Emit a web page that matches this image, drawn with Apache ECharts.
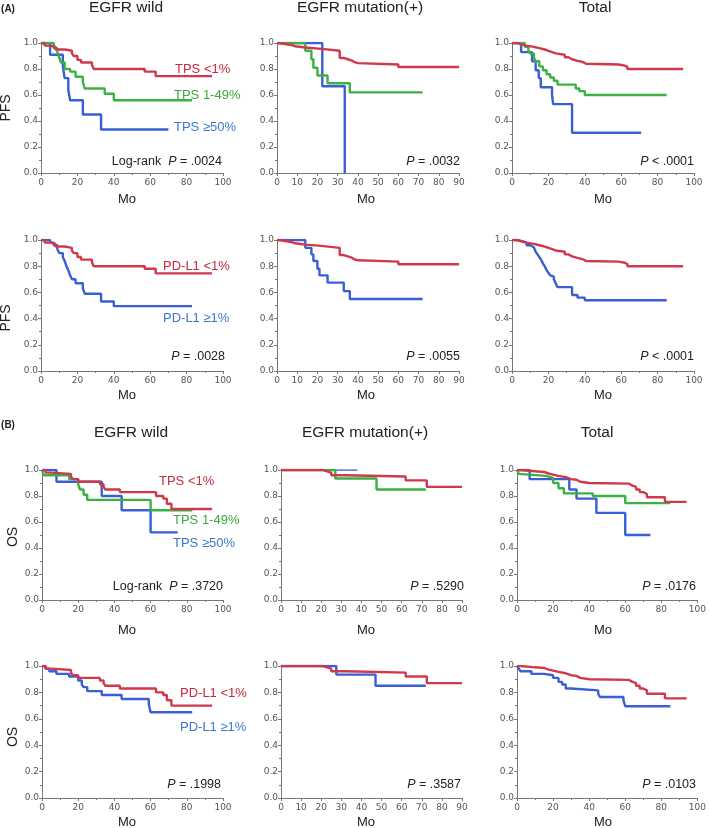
<!DOCTYPE html>
<html>
<head>
<meta charset="utf-8">
<script src="https://cdn.jsdelivr.net/npm/echarts@6/dist/echarts.min.js"></script>
<style>
  html, body { margin: 0; padding: 0; background: #fff; }
  #chart { width: 709px; height: 828px; }
</style>
</head>
<body>
<div id="chart"></div>
<script>
// Kaplan-Meier curves, [month, survival]
// PFS, EGFR wild
const pfsWildLow = [[0,1],[2,0.98],[5,0.97],[8,0.95],[13,0.94],[17,0.92],[18,0.90],[20,0.87],[22,0.85],[28,0.83],[29,0.80],[57,0.78],[63,0.745],[94,0.745]]
const pfsWildMid = [[0,1],[7,0.96],[9,0.93],[10,0.89],[11,0.85],[13,0.80],[16,0.78],[19,0.74],[23,0.70],[24,0.65],[35,0.61],[40,0.56],[83,0.56]]
const pfsWildHigh = [[0,1],[5,0.91],[12,0.82],[13,0.73],[15,0.64],[16,0.56],[23,0.45],[33,0.335],[70,0.335]]
const pfsWildPdHigh = [[0,1],[5,0.98],[7,0.96],[9,0.93],[10,0.90],[12,0.87],[13,0.84],[14,0.80],[15,0.77],[16,0.73],[17,0.70],[19,0.67],[23,0.63],[24,0.59],[33,0.53],[40,0.495],[83,0.495]]
// PFS, EGFR mutation(+)
const pfsMutLow = [[0,1],[1,0.985],[7,0.975],[9,0.965],[14,0.955],[22,0.94],[31,0.885],[33,0.875],[35,0.865],[37,0.855],[38,0.845],[40,0.835],[60,0.815],[90,0.815]]
const pfsMutMid = [[0,1],[14,0.94],[17,0.875],[18,0.81],[20,0.75],[25,0.69],[36,0.62],[72,0.62]]
const pfsMutHigh = [[0,1],[22.4,0.667],[33.5,0]]
const pfsMutPdHigh = [[0,1],[14,0.94],[17,0.89],[18,0.84],[20,0.78],[21,0.73],[25,0.675],[33,0.61],[36,0.55],[72,0.55]]
// PFS, total
const pfsTotLow = [[0,1],[3,0.99],[5,0.98],[8,0.97],[12,0.96],[15,0.95],[18,0.94],[20,0.93],[22,0.92],[24,0.91],[29,0.89],[31,0.875],[33,0.865],[35.5,0.86],[37,0.85],[39.5,0.84],[40.6,0.835],[58.5,0.826],[62,0.816],[63.4,0.80],[94,0.80]]
const pfsTotMid = [[0,1],[7,0.97],[9,0.94],[10,0.92],[12,0.89],[13,0.86],[15,0.82],[17,0.79],[19,0.76],[21,0.735],[23,0.71],[25,0.68],[35,0.65],[37,0.63],[40,0.60],[85,0.60]]
const pfsTotHigh = [[0,1],[5,0.93],[11,0.86],[13,0.79],[14.7,0.73],[15.8,0.66],[22,0.60],[22.6,0.53],[33,0.31],[71,0.31]]
const pfsTotPdHigh = [[0,1],[3,0.99],[6,0.98],[8,0.96],[10,0.945],[12,0.93],[13,0.91],[14,0.89],[15,0.87],[16,0.85],[17,0.82],[18,0.80],[19,0.77],[20,0.75],[21,0.73],[22,0.72],[23,0.70],[24,0.67],[25,0.64],[33,0.58],[36,0.56],[40,0.54],[85,0.54]]
// OS, EGFR wild
const osWildLow = [[0,1],[2,0.98],[5,0.97],[16,0.95],[17,0.93],[20,0.91],[32,0.89],[34,0.87],[35,0.85],[43,0.83],[63,0.80],[67,0.78],[69,0.74],[71.5,0.70],[94,0.70]]
const osWildMid = [[0,1],[1,0.96],[15,0.93],[20,0.89],[21,0.85],[23,0.81],[25,0.77],[60,0.69],[83,0.69]]
const osWildHigh = [[0,1],[8,0.91],[33,0.80],[44,0.69],[60,0.52],[75,0.52]]
const osWildPdHigh = [[0,1],[2,0.98],[4,0.96],[8,0.94],[15,0.92],[20,0.89],[22,0.86],[23,0.84],[25,0.81],[33,0.78],[44,0.75],[59,0.71],[60,0.65],[83,0.65]]
// OS, EGFR mutation(+)
const osMutLow = [[0,1],[21,0.99],[23,0.98],[25,0.96],[32,0.95],[62,0.92],[72.5,0.87],[90,0.87]]
const osMutMid = [[0,1],[27,0.935],[47.5,0.85],[72,0.85]]
const osMutHigh = [[0,1],[38,1]]
const osMutPdHigh = [[0,1],[27.5,0.935],[47,0.85],[72,0.85]]
// OS, total
const osTotLow = [[0,1],[2,0.99],[10,0.985],[15,0.975],[17,0.965],[20,0.955],[23,0.945],[27,0.93],[30,0.925],[33,0.91],[35,0.90],[40,0.895],[62,0.88],[64,0.87],[66,0.85],[68,0.83],[70,0.815],[72,0.79],[82,0.755],[94,0.755]]
const osTotMid = [[0,1],[1,0.97],[2,0.955],[16,0.94],[20,0.90],[23,0.86],[26,0.82],[42,0.80],[60,0.745],[85,0.745]]
const osTotHigh = [[0,1],[7,0.93],[29,0.85],[33,0.78],[44,0.67],[60,0.50],[74,0.50]]
const osTotPdHigh = [[0,1],[1,0.98],[2,0.96],[8,0.94],[15,0.93],[20,0.91],[23,0.88],[25,0.86],[27,0.83],[30,0.815],[45,0.79],[46,0.765],[59,0.74],[60,0.695],[85,0.695]]

const colTitles = ['EGFR wild', 'EGFR mutation(+)', 'Total']
const xMaxes = [100, 90, 100]
const xSteps = [20, 10, 20]
const pValues = ['.0024', '.0032', '< .0001', '.0028', '.0055', '< .0001', '.3720', '.5290', '.0176', '.1998', '.3587', '.0103']

const RED = '#d0384c'
const GREEN = '#3cb043'
const BLUE = '#3a5fd4'

// panel order: row by row
const panels = [
  [pfsWildLow, pfsWildMid, pfsWildHigh], [pfsMutLow, pfsMutMid, pfsMutHigh], [pfsTotLow, pfsTotMid, pfsTotHigh],
  [pfsWildLow, pfsWildPdHigh], [pfsMutLow, pfsMutPdHigh], [pfsTotLow, pfsTotPdHigh],
  [osWildLow, osWildMid, osWildHigh], [osMutLow, osMutMid, osMutHigh], [osTotLow, osTotMid, osTotHigh],
  [osWildLow, osWildPdHigh], [osMutLow, osMutPdHigh], [osTotLow, osTotPdHigh],
]

const rowTop = [43, 240, 470, 666]
const rowH = [130, 131, 130, 132]
const colLeft = [[41, 277, 512], [41, 277, 512], [42, 281, 517], [42, 281, 517]]
const colW = [[182, 182, 182], [182, 182, 182], [181, 181, 181], [181, 181, 181]]

const font = 'Liberation Sans, Arial, sans-serif'
const tickFont = 'DejaVu Sans, Verdana, sans-serif'

const grid = [], xAxis = [], yAxis = [], series = []
panels.forEach((curves, i) => {
  const r = Math.floor(i / 3), c = i % 3
  grid.push({ left: colLeft[r][c], top: rowTop[r], width: colW[r][c], height: rowH[r], containLabel: false })
  xAxis.push({
    gridIndex: i, type: 'value', min: 0, max: xMaxes[c], interval: xSteps[c],
    axisLine: { lineStyle: { color: '#777', width: 1 } },
    axisTick: { length: 3, lineStyle: { color: '#777' } },
    minorTick: { show: xSteps[c] === 20, splitNumber: 2, length: 2, lineStyle: { color: '#777' } },
    axisLabel: { fontSize: 9, color: '#555', fontFamily: tickFont, margin: 5 },
    splitLine: { show: false },
  })
  yAxis.push({
    gridIndex: i, type: 'value', min: 0, max: 1, interval: 0.2,
    axisLine: { show: true, lineStyle: { color: '#777', width: 1 } },
    axisTick: { show: true, length: 3, lineStyle: { color: '#777' } },
    minorTick: { show: true, splitNumber: 2, length: 2, lineStyle: { color: '#777' } },
    axisLabel: { fontSize: 9, color: '#555', fontFamily: tickFont, margin: 3, formatter: v => v.toFixed(1) },
    splitLine: { show: false },
  })
  const colors = curves.length === 3 ? [RED, GREEN, BLUE] : [RED, BLUE]
  curves.forEach((d, k) => {
    series.push({
      type: 'line', xAxisIndex: i, yAxisIndex: i, step: 'end', data: d,
      showSymbol: false, symbol: 'none', silent: true,
      lineStyle: { color: colors[k], width: (i === 7 && k === 2) ? 1.5 : 2.4 },
      z: 3 - k,
    })
  })
})

// texts
const graphic = []
function txt(x, y, text, opt) {
  graphic.push(Object.assign({
    type: 'text', x: x, y: y,
    style: Object.assign({ text: text, font: '13px ' + font, fill: '#222', align: 'center', verticalAlign: 'middle' }, opt || {}),
  }))
}
function vtxt(x, y, text) {
  graphic.push({ type: 'text', x: x, y: y, rotation: Math.PI / 2,
    style: { text: text, font: '14px ' + font, fill: '#222', align: 'center', verticalAlign: 'middle' } })
}
function ptxt(xRight, y, p, prefix) {
  const sign = p.charAt(0) === '<' ? '< ' + p.slice(2) : '= ' + p
  graphic.push({ type: 'text', x: xRight, y: y,
    style: { text: (prefix || '') + '{i|P} ' + sign, font: '12.5px ' + font, fill: '#222', align: 'right', verticalAlign: 'middle',
      rich: { i: { font: 'italic 12.5px ' + font, fill: '#222' } } } })
}

txt(8, 9, '(A)', { font: 'bold 10px ' + font })
txt(8, 425, '(B)', { font: 'bold 10px ' + font })
const titleX = [[126, 360, 595], [131, 365, 597]]
const titleY = [8, 433]
colTitles.forEach((t, c) => {
  txt(titleX[0][c], titleY[0], t, { font: '15.5px ' + font })
  txt(titleX[1][c], titleY[1], t, { font: '15.5px ' + font })
})

const moX = [127, 366, 603]
const moY = [199, 395, 630, 822]
moY.forEach(y => moX.forEach(x => txt(x, y, 'Mo', { font: '13px ' + font })))

vtxt(6, 108, 'PFS')
vtxt(6, 318, 'PFS')
vtxt(13, 537, 'OS')
vtxt(13, 737, 'OS')

// group labels
txt(175, 69, 'TPS <1%', { fill: '#c8283c', align: 'left' })
txt(174, 95, 'TPS 1-49%', { fill: '#3aab3a', align: 'left' })
txt(174, 127, 'TPS \u226550%', { fill: '#3a78d0', align: 'left' })
txt(163, 266, 'PD-L1 <1%', { fill: '#c8283c', align: 'left' })
txt(163, 318, 'PD-L1 \u22651%', { fill: '#3a78d0', align: 'left' })
txt(159, 481, 'TPS <1%', { fill: '#c8283c', align: 'left' })
txt(173, 520, 'TPS 1-49%', { fill: '#3aab3a', align: 'left' })
txt(173, 543, 'TPS \u226550%', { fill: '#3a78d0', align: 'left' })
txt(180, 693, 'PD-L1 <1%', { fill: '#c8283c', align: 'left' })
txt(180, 727, 'PD-L1 \u22651%', { fill: '#3a78d0', align: 'left' })

// p values
const pRight = [[222, 460, 694], [225, 460, 694], [223, 464, 696], [221, 461, 696]]
const pY = [162, 357, 587, 785]
pValues.forEach((p, i) => {
  const r = Math.floor(i / 3), c = i % 3
  const prefix = (c === 0 && (r === 0 || r === 2)) ? 'Log-rank  ' : ''
  ptxt(pRight[r][c], pY[r], p, prefix)
})

const chart = echarts.init(document.getElementById('chart'), null, { renderer: 'canvas' })
chart.setOption({
  backgroundColor: '#fff',
  animation: false,
  grid: grid,
  xAxis: xAxis,
  yAxis: yAxis,
  series: series,
  graphic: graphic,
})
</script>
</body>
</html>
